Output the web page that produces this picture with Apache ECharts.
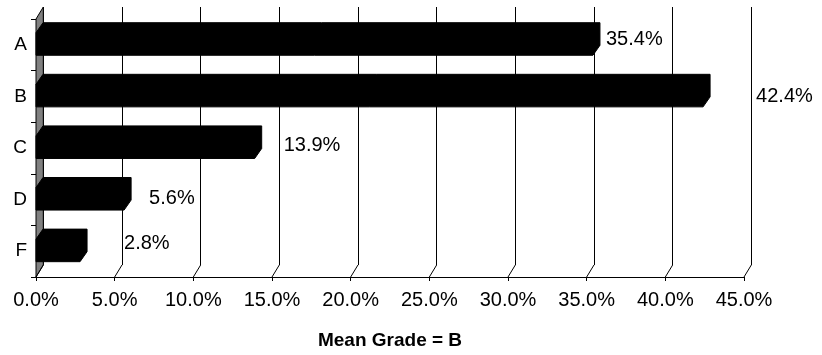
<!DOCTYPE html>
<html>
<head>
<meta charset="utf-8">
<script src="https://cdn.jsdelivr.net/npm/echarts@6/dist/echarts.min.js"></script>
<style>
html,body{margin:0;padding:0;background:#fff;}
#chart{width:822px;height:355px;}
</style>
</head>
<body>
<div id="chart"></div>
<script>
// ---- data ----
const categories = ['A', 'B', 'C', 'D', 'F'];
const shares = [35.4, 42.4, 13.9, 5.6, 2.8];
const xTicks = [0, 5, 10, 15, 20, 25, 30, 35, 40, 45];
const axisTitle = 'Mean Grade = B';

// ---- layout / style constants ----
const labelNudges = [[6, 0], [46, 5.5], [22, 3], [18, 5], [37, -2]];
const DX = 7.3, DY = 12;     // wall depth
const DXB = 7, DYB = 10;     // bar depth
const FONT = '"Liberation Sans", Arial, Helvetica, sans-serif';

const chart = echarts.init(document.getElementById('chart'), null, {renderer: 'canvas'});

const barData = shares.map((v, i) => [v, i]);
const tickData = xTicks.map(v => [v, 0]);

const option = {
  animation: false,
  backgroundColor: '#fff',
  grid: [
    {left: 36, right: 78, top: 19, bottom: 78},
    {left: 36 + DX, right: 78 - DX, top: 19 - DY, bottom: 78 + DY}
  ],
  xAxis: [
    {
      type: 'value', gridIndex: 0, min: 0, max: 45, interval: 5,
      axisLine: {show: true, lineStyle: {color: '#000', width: 1}},
      axisTick: {show: true, length: 4, lineStyle: {color: '#000'}},
      axisLabel: {
        margin: 13, color: '#000', fontSize: 20, fontFamily: FONT,
        formatter: v => v.toFixed(1) + '%'
      },
      splitLine: {show: false},
      name: axisTitle, nameLocation: 'middle', nameGap: 54,
      nameTextStyle: {color: '#000', fontSize: 19, fontWeight: 'bold', fontFamily: FONT}
    },
    {
      type: 'value', gridIndex: 1, min: 0, max: 45, interval: 5,
      axisLine: {show: false}, axisTick: {show: false}, axisLabel: {show: false},
      splitLine: {show: true, lineStyle: {color: '#000', width: 1}}
    }
  ],
  yAxis: [
    {
      type: 'category', gridIndex: 0, data: categories, inverse: true,
      axisLine: {show: true, lineStyle: {color: '#000', width: 1}},
      axisTick: {show: true, length: 5, lineStyle: {color: '#000'}},
      axisLabel: {margin: 9, color: '#000', fontSize: 19, fontFamily: FONT},
      splitLine: {show: false}
    },
    {
      type: 'category', gridIndex: 1, data: categories, inverse: true,
      axisLine: {show: false}, axisTick: {show: false}, axisLabel: {show: false},
      splitLine: {show: false}
    }
  ],
  series: [
    {
      // left side wall
      type: 'custom', xAxisIndex: 0, yAxisIndex: 0, z: 1,
      data: [[0, 0]],
      renderItem: function (params, api) {
        const cs = params.coordSys;
        const x = api.coord([0, 0])[0];
        const yTop = cs.y, yBot = cs.y + cs.height;
        return {
          type: 'polygon',
          shape: {points: [[x, yTop], [x + DX, yTop - DY], [x + DX, yBot - DY], [x, yBot]]},
          style: {fill: '#808080', stroke: '#000', lineWidth: 1}
        };
      }
    },
    {
      // floor depth lines
      type: 'custom', xAxisIndex: 0, yAxisIndex: 0, z: 1,
      data: tickData,
      renderItem: function (params, api) {
        const cs = params.coordSys;
        const x = api.coord([api.value(0), 0])[0];
        const y = cs.y + cs.height;
        return {
          type: 'line',
          shape: {x1: x, y1: y, x2: x + DX, y2: y - DY},
          style: {stroke: '#000', lineWidth: 1}
        };
      }
    },
    {
      // 3D bars
      type: 'custom', xAxisIndex: 0, yAxisIndex: 0, z: 3,
      data: barData,
      encode: {x: 0, y: 1},
      renderItem: function (params, api) {
        const v = api.value(0), i = api.value(1);
        const p0 = api.coord([0, i]);
        const p1 = api.coord([v, i]);
        const bw = api.size([0, 1])[1];
        const top = p0[1] - bw / 2;
        const yb = top + 0.703 * bw;
        const ybt = top + 0.072 * bw;
        const yt = ybt + DYB;
        const x0 = p0[0], x1 = p1[0];
        const n = labelNudges[params.dataIndex] || [6, 0];
        return {
          type: 'group',
          children: [
            {
              type: 'polygon',
              shape: {points: [[x0, yb], [x0, yt], [x0 + DXB, ybt], [x1 + DXB, ybt], [x1 + DXB, yb - DYB], [x1, yb]]},
              style: {fill: '#000', stroke: '#000', lineWidth: 1}
            },
            {
              type: 'text',
              style: {
                text: v.toFixed(1) + '%',
                x: x1 + DXB + n[0], y: (ybt + yb) / 2 + n[1],
                align: 'left', verticalAlign: 'middle',
                font: '20px ' + FONT, fill: '#000'
              }
            }
          ]
        };
      }
    }
  ]
};
chart.setOption(option);
</script>
</body>
</html>
